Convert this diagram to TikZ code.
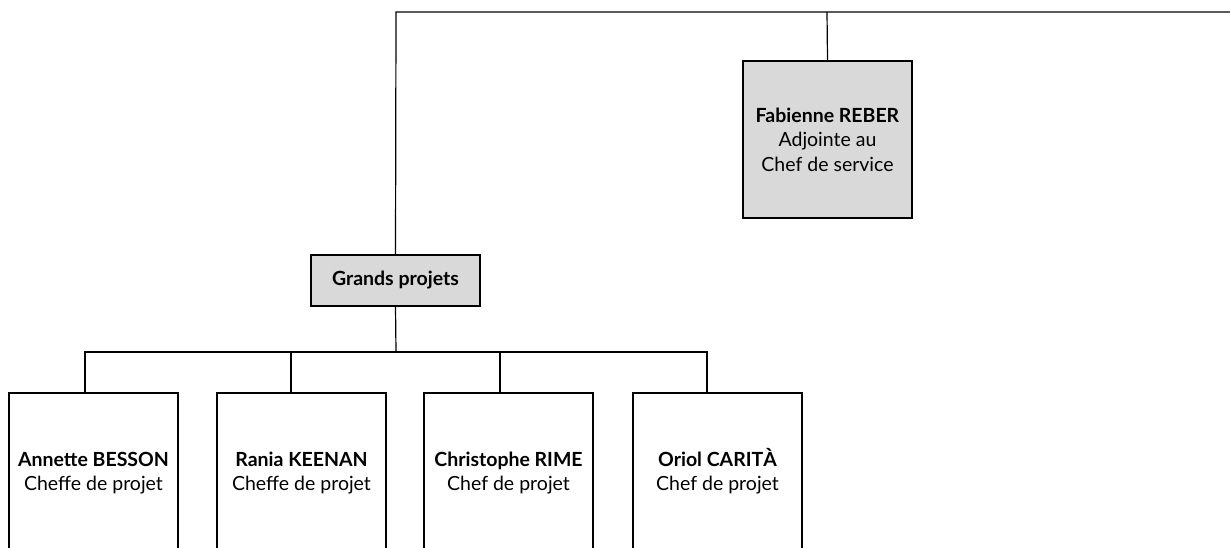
\documentclass[tikz,border=0pt]{standalone}
\usepackage{fontspec}
\setmainfont{Lato}
\begin{document}
\begin{tikzpicture}[x=1pt,y=-1pt,
  box/.style={draw=black,line width=1.2pt,align=center,inner sep=0pt,font=\fontsize{19.5}{24.5}\selectfont},
  graybox/.style={box,fill=gray!30},
  conn/.style={draw=black,line width=1.2pt}]
\useasboundingbox (0,0) rectangle (1230,547);
% top connector
\coordinate (topL) at (396,12);
\coordinate (topR) at (1232,12);
\coordinate (topF) at (827,12);
% Fabienne box
\node[graybox,minimum width=169pt,minimum height=157pt] (fab) at (827.5,139.5)
  {\textbf{Fabienne REBER}\\Adjointe au\\Chef de service};
% Grands projets
\node[graybox,minimum width=169pt,minimum height=51pt] (gp) at (395.5,280.5) {\textbf{Grands projets}};
% bottom boxes (extend beyond the bottom edge)
\node[box,minimum width=169pt,minimum height=160pt] (b1) at (93.5,473) {\textbf{Annette BESSON}\\Cheffe de projet};
\node[box,minimum width=169pt,minimum height=160pt] (b2) at (301.5,473) {\textbf{Rania KEENAN}\\Cheffe de projet};
\node[box,minimum width=169pt,minimum height=160pt] (b3) at (508.5,473) {\textbf{Christophe RIME}\\Chef de projet};
\node[box,minimum width=169pt,minimum height=160pt] (b4) at (717.5,473) {\textbf{Oriol CARIT\smash{À}}\\Chef de projet};
% connectors
\draw[conn] (topR) -- (topL) -- (gp.north);
\draw[conn] (topF) -- (fab.north);
\coordinate (hub) at (396,352);
\draw[conn] (gp.south) -- (hub);
\draw[conn] (b1.north -| 85,0) |- (hub);
\draw[conn] (hub) -| (b4.north -| 707,0);
\draw[conn] (291,352) -- (b2.north -| 291,0);
\draw[conn] (500,352) -- (b3.north -| 500,0);
\end{tikzpicture}
\end{document}
